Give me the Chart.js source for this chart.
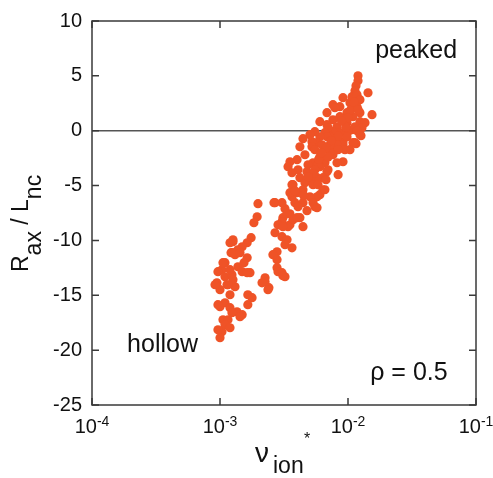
<!DOCTYPE html>
<html lang="en">
<head>
  <meta charset="UTF-8">
  <title>R_ax / L_nc vs nu_ion*</title>
  <script src="https://cdn.jsdelivr.net/npm/chart.js"></script>
  <style>
    body { margin: 0; background: #fff; }
    #wrap { width: 493px; height: 478px; position: relative; }
  </style>
</head>
<body>
  <div id="wrap"><canvas id="chart"></canvas></div>
  <script>
    // collisionality values (x)
    const nuIon = [
      1.197e-2, 1.197e-2, 1.155e-2, 1.134e-2, 1.433e-2, 9.14e-3, 1.075e-2, 1.176e-2, 1.24e-2, 1.036e-2,
      8.64e-3, 7.63e-3, 7.90e-3, 6.85e-3, 1.54e-2, 1.176e-2, 1.24e-2, 1.24e-2, 1.094e-2, 9.82e-3,
      8.64e-3, 7.63e-3, 6.03e-3, 6.85e-3, 8.20e-3, 9.82e-3, 1.134e-2, 1.358e-2, 1.286e-2, 1.263e-2,
      1.155e-2, 9.46e-3, 1.075e-2, 1.176e-2, 1.0e-2, 8.64e-3, 7.63e-3, 6.98e-3, 6.6e-3, 7.22e-3,
      8.20e-3, 9.14e-3, 1.134e-2, 1.24e-2, 9.82e-3, 1.094e-2, 9.14e-3, 7.63e-3, 8.20e-3, 6.85e-3,
      6.03e-3, 5.73e-3, 5.23e-3, 5.51e-3, 5.04e-3, 4.45e-3, 4.21e-3, 5.23e-3, 1.036e-2, 9.46e-3,
      8.37e-3, 7.63e-3, 9.14e-3, 8.37e-3, 8.20e-3, 7.22e-3, 6.6e-3, 6.03e-3, 6.26e-3, 7.22e-3,
      4.61e-3, 5.51e-3, 5.33e-3, 6.03e-3, 6.98e-3, 5.83e-3, 6.85e-3, 6.38e-3, 5.73e-3, 5.04e-3,
      4.78e-3, 4.87e-3, 5.51e-3, 4.0e-3, 3.52e-3, 3.40e-3, 4.07e-3, 3.65e-3, 4.21e-3, 4.61e-3,
      3.72e-3, 4.45e-3, 4.0e-3, 5.33e-3, 5.83e-3, 6.73e-3, 6.38e-3, 6.03e-3, 6.6e-3, 5.73e-3,
      5.04e-3, 3.65e-3, 3.52e-3, 3.85e-3, 4.45e-3, 5.33e-3, 5.51e-3, 5.73e-3, 4.78e-3, 4.21e-3,
      3.52e-3, 3.22e-3, 2.69e-3, 3.05e-3, 3.10e-3, 2.94e-3, 3.52e-3, 4.45e-3, 3.72e-3, 3.65e-3,
      4.07e-3, 4.37e-3, 4.0e-3, 3.34e-3, 3.05e-3, 2.84e-3, 2.69e-3, 3.05e-3, 3.34e-3, 3.40e-3,
      3.22e-3, 3.65e-3, 2.79e-3, 2.59e-3, 2.79e-3, 2.79e-3, 3.05e-3, 3.22e-3, 2.84e-3, 3.10e-3,
      2.25e-3, 2.25e-3, 2.41e-3, 3.10e-3, 2.64e-3, 1.98e-3, 1.95e-3, 1.84e-3, 3.85e-3,
      1.263e-3, 1.75e-3, 1.63e-3, 1.49e-3, 1.38e-3, 1.22e-3, 1.31e-3, 1.63e-3, 1.54e-3, 1.38e-3,
      1.094e-3, 1.036e-3, 9.64e-4, 1.094e-3, 1.24e-3, 1.715e-3, 1.49e-3, 9.46e-4, 1.0e-3, 1.134e-3,
      1.31e-3, 1.197e-3, 1.65e-3, 1.78e-3, 1.65e-3, 1.0e-3, 1.094e-3, 1.197e-3, 1.358e-3, 1.49e-3,
      1.24e-3, 1.055e-3, 1.155e-3, 1.094e-3, 1.197e-3, 1.036e-3, 1.0e-3, 9.64e-4, 9.64e-4, 1.433e-3,
      9.14e-4, 1.263e-3, 1.197e-3, 1.055e-3, 1.263e-3, 1.433e-3, 1.197e-3, 1.263e-3, 2.13e-3, 2.37e-3,
      1.63e-3, 1.155e-3,
      // extra fill of the dense band
      1.05e-2, 1.0e-2, 9.6e-3, 1.12e-2, 1.2e-2, 8.9e-3, 8.4e-3, 7.4e-3, 6.7e-3, 5.9e-3,
      5.4e-3, 4.9e-3, 4.5e-3, 7.0e-3, 6.2e-3
    ];
    // R_ax / L_nc values (y), same order
    const rOverL = [
      5.01, 4.56, 4.10, 3.65, 3.46, 3.01, 3.10, 3.28, 2.83, 2.55,
      2.19, 2.37, 2.10, 1.64, 1.46, 2.19, 1.64, 0.82, 1.28, 1.64,
      1.28, 1.00, 0.82, 0.55, 0.36, 0.73, 0.36, 0.73, 0.27, -0.46,
      -1.19, 0.73, 0.09, 0.0, -0.09, -0.18, -0.09, 0.27, -0.18, -0.55,
      -0.82, -1.00, -1.09, -0.36, -0.55, -1.09, -1.28, -1.46, -1.28, -0.55,
      -0.55, -1.09, -1.00, -0.09, -0.36, -0.73, -1.46, -1.46, -1.73, -1.73,
      -1.73, -2.19, -2.83, -4.01, -2.92, -2.01, -2.92, -2.37, -1.28, -1.28,
      -2.19, -1.73, -2.92, -3.28, -3.56, -3.10, -3.74, -4.28, -4.28, -4.47,
      -3.74, -3.10, -3.56, -2.64, -2.83, -3.28, -3.56, -3.83, -4.28, -4.74,
      -4.92, -5.38, -5.65, -4.92, -4.92, -4.47, -5.38, -5.83, -5.38, -6.02,
      -6.02, -6.02, -5.65, -6.56, -6.56, -6.56, -6.93, -7.02, -7.29, -7.93,
      -7.57, -7.11, -6.56, -6.56, -7.93, -8.57, -8.57, -8.75, -8.11, -4.92,
      -6.93, -5.65, -7.93, -7.57, -8.29, -8.57, -9.30, -9.66, -9.94, -8.75,
      -10.39, -10.67, -11.03, -11.30, -11.76, -12.49, -12.94, -13.31, -12.85, -13.22,
      -13.40, -13.76, -14.31, -8.75, -6.56, -6.65, -7.84, -8.39, -5.47,
      -10.12, -9.75, -10.21, -10.58, -10.85, -11.12, -11.30, -11.58, -12.03, -12.40,
      -12.03, -12.67, -12.85, -13.31, -13.13, -12.94, -12.85, -13.86, -14.49, -14.04,
      -14.22, -14.95, -14.95, -15.22, -15.86, -16.04, -15.68, -16.13, -16.50, -16.77,
      -16.59, -17.23, -17.23, -17.68, -17.96, -18.32, -18.87, -18.14, -15.86, -16.95,
      -14.04, -13.58, -12.67, -12.03, -11.12, -11.12, -10.21, -9.94, -13.86, -14.49,
      -12.94, -14.04,
      1.9, 1.2, 0.3, 2.6, 1.9, 0.9, -0.5, -0.9, -1.6, -2.6,
      -3.9, -4.2, -5.9, -2.4, -2.0
    ];
    const xTicks = [1e-4, 1e-3, 1e-2, 1e-1];
    const xTickExp = ['-4', '-3', '-2', '-1'];
    const yTicks = [-25, -20, -15, -10, -5, 0, 5, 10];

    const FONT = '"Liberation Sans", Arial, Helvetica, sans-serif';
    const INK = '#111';
    const AXIS = '#3a3a3a';

    const points = nuIon.map((x, i) => ({ x: x, y: rOverL[i] }));

    const decor = {
      id: 'decor',
      beforeDatasetsDraw(chart) {
        const { ctx, chartArea: a, scales: { y } } = chart;
        const y0 = y.getPixelForValue(0);
        ctx.save();
        ctx.strokeStyle = '#555';
        ctx.lineWidth = 1.5;
        ctx.beginPath();
        ctx.moveTo(a.left, y0);
        ctx.lineTo(a.right, y0);
        ctx.stroke();
        ctx.restore();
      },
      afterDraw(chart) {
        const { ctx, chartArea: a, scales: { x, y } } = chart;
        ctx.save();
        // frame
        ctx.strokeStyle = AXIS;
        ctx.lineWidth = 1.5;
        ctx.strokeRect(a.left, a.top, a.right - a.left, a.bottom - a.top);
        // inward ticks, mirrored
        ctx.beginPath();
        yTicks.forEach(v => {
          const p = y.getPixelForValue(v);
          ctx.moveTo(a.left, p); ctx.lineTo(a.left + 7, p);
          ctx.moveTo(a.right, p); ctx.lineTo(a.right - 7, p);
        });
        xTicks.forEach(v => {
          const p = x.getPixelForValue(v);
          ctx.moveTo(p, a.bottom); ctx.lineTo(p, a.bottom - 7);
          ctx.moveTo(p, a.top); ctx.lineTo(p, a.top + 7);
        });
        ctx.stroke();

        ctx.fillStyle = INK;
        // y tick labels
        ctx.font = '20px ' + FONT;
        ctx.textAlign = 'right';
        ctx.textBaseline = 'middle';
        yTicks.forEach(v => ctx.fillText(String(v), a.left - 10, y.getPixelForValue(v)));

        // x tick labels 10^n
        ctx.textAlign = 'left';
        ctx.textBaseline = 'alphabetic';
        xTicks.forEach((v, i) => {
          ctx.font = '20px ' + FONT;
          const w1 = ctx.measureText('10').width;
          ctx.font = '14px ' + FONT;
          const w2 = ctx.measureText(xTickExp[i]).width;
          const x0 = x.getPixelForValue(v) - (w1 + w2) / 2;
          ctx.font = '20px ' + FONT;
          ctx.fillText('10', x0, a.bottom + 28);
          ctx.font = '14px ' + FONT;
          ctx.fillText(xTickExp[i], x0 + w1, a.bottom + 21);
        });

        // x title: nu_ion *
        ctx.font = '28px ' + FONT;
        ctx.fillText('\u03bd', 255, 462);
        ctx.font = '23px ' + FONT;
        ctx.fillText('ion', 273, 473);
        ctx.font = '16px ' + FONT;
        ctx.fillText('*', 304, 444);

        // y title: R_ax / L_nc
        ctx.save();
        ctx.translate(28, 272);
        ctx.rotate(-Math.PI / 2);
        let cx = 0;
        const part = (t, dy) => {
          ctx.font = '23px ' + FONT;
          ctx.fillText(t, cx, dy);
          cx += ctx.measureText(t).width;
        };
        part('R', 0); part('ax', 13); part(' / ', 0); part('L', 0); part('nc', 13);
        ctx.restore();

        // annotations
        ctx.font = '25px ' + FONT;
        ctx.fillText('peaked', x.getPixelForValue(1.63e-2), y.getPixelForValue(6.65));
        ctx.fillText('hollow', x.getPixelForValue(1.88e-4), y.getPixelForValue(-20.15));
        ctx.fillText('\u03c1 = 0.5', x.getPixelForValue(1.49e-2), y.getPixelForValue(-22.7));
        ctx.restore();
      }
    };

    new Chart(document.getElementById('chart'), {
      type: 'scatter',
      data: {
        datasets: [{
          data: points,
          backgroundColor: '#EF5327',
          borderWidth: 0,
          pointRadius: 4.6,
          pointHoverRadius: 4.6
        }]
      },
      options: {
        responsive: true,
        maintainAspectRatio: false,
        animation: false,
        layout: { padding: { left: 92, top: 21, right: 17, bottom: 73 } },
        plugins: { legend: { display: false }, tooltip: { enabled: false } },
        scales: {
          x: { type: 'logarithmic', min: 1e-4, max: 1e-1, display: false },
          y: { type: 'linear', min: -25, max: 10, display: false }
        }
      },
      plugins: [decor]
    });
  </script>
</body>
</html>
